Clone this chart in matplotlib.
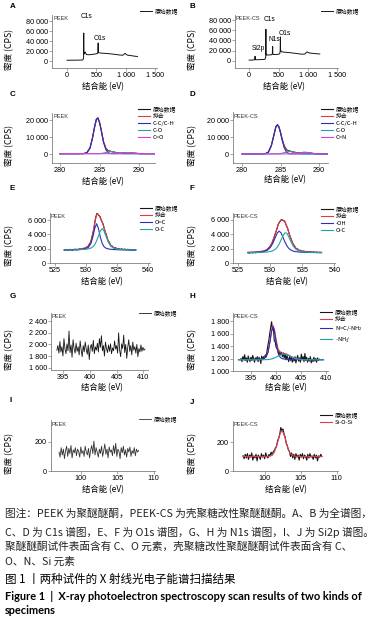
import numpy as np
import matplotlib.pyplot as plt
from matplotlib.ticker import FuncFormatter

plt.rcParams['font.family'] = ['Liberation Sans', 'Noto Sans CJK SC']
plt.rcParams['mathtext.fontset'] = 'custom'
plt.rcParams['mathtext.rm'] = 'Liberation Sans'
plt.rcParams['mathtext.it'] = 'Liberation Sans'
plt.rcParams['axes.unicode_minus'] = False

# A / B 全谱
survey_a_ev = [0, 100, 200, 270, 282, 284, 285, 286, 288, 295, 310, 330, 360, 400, 450, 500, 520, 528, 530, 531,
               532, 535, 545, 570, 620, 700, 800, 900, 950, 970, 985, 1000, 1015, 1040, 1080, 1120, 1160, 1200]
survey_a_cps = [1500, 1600, 1800, 2000, 6000, 40000, 56000, 30000, 16000, 14000, 18000, 13000, 12500, 12800, 13500,
                14500, 15000, 19000, 30000, 36000, 22000, 17000, 16500, 16000, 15500, 14800, 13500, 12000, 11500,
                13000, 15000, 14500, 12500, 11500, 11000, 10200, 9500, 9000]
survey_b_ev = [0, 60, 98, 101, 103, 106, 150, 200, 270, 282, 284, 285, 286, 288, 295, 330, 380, 395, 398, 400,
               402, 406, 450, 500, 520, 528, 530, 532, 534, 545, 600, 700, 800, 900, 950, 975, 990, 1010, 1050, 1100, 1200]
survey_b_cps = [1500, 1600, 2500, 9000, 3000, 2200, 2300, 2500, 3000, 8000, 45000, 62000, 25000, 13000, 11500,
                11500, 12000, 14000, 24000, 28000, 16000, 12500, 12500, 13000, 14000, 20000, 38000, 47000, 22000,
                18000, 17000, 16000, 14500, 13000, 13500, 17000, 17500, 16000, 15000, 14500, 13500]

# C / D  C1s
c1s_ev = [280.0, 281.0, 282.0, 283.0, 283.4, 283.8, 284.1, 284.4, 284.6, 284.8, 285.0, 285.2, 285.5, 285.8,
          286.1, 286.4, 286.8, 287.2, 287.6, 288.0, 288.4, 288.8, 289.2, 289.6, 290.2, 291.0, 292.0]
c_raw_peek = [250, 340, 280, 380, 900, 3600, 9500, 16500, 20700, 21500, 18600, 14700, 7300, 3500, 2100, 1650,
              1250, 850, 560, 800, 1000, 900, 700, 520, 280, 330, 260]
c_fit_peek = [300, 300, 310, 350, 850, 3750, 9300, 16700, 20400, 21200, 18850, 14420, 7440, 3345, 1970, 1700,
              1310, 796, 595, 745, 960, 960, 725, 475, 320, 300, 300]
c_cc_peek = [300, 300, 310, 350, 850, 3750, 9300, 16700, 20400, 21200, 18800, 14300, 7100, 2630, 850, 400,
             310, 300, 300, 300, 300, 300, 300, 300, 300, 300, 300]
c_co_peek = [300, 300, 300, 300, 300, 300, 300, 300, 300, 300, 350, 420, 640, 1015, 1420, 1600, 1300, 750, 420,
             320, 300, 300, 300, 300, 300, 300, 300]
c_ceo_peek = [300, 300, 300, 300, 300, 300, 300, 300, 300, 300, 300, 300, 300, 300, 300, 300, 300, 346, 475,
              725, 960, 960, 725, 475, 320, 300, 300]
c_raw_cs = [280, 330, 260, 420, 1200, 5100, 10400, 16300, 17100, 15800, 13000, 9300, 4800, 2700, 2100, 1750,
            1300, 950, 1000, 1150, 1100, 900, 600, 420, 280, 320, 270]
c_fit_cs = [300, 300, 300, 400, 1250, 5000, 10600, 16000, 17340, 16090, 12790, 8950, 4380, 2370, 1870, 1665,
            1240, 925, 980, 1175, 1160, 890, 575, 390, 310, 300, 300]
c_cc_cs = [300, 300, 300, 400, 1250, 5000, 10600, 16000, 17300, 16000, 12600, 8600, 3670, 1250, 490, 325,
           300, 300, 300, 300, 300, 300, 300, 300, 300, 300, 300]
c_co_cs = [300, 300, 300, 300, 300, 300, 300, 300, 340, 390, 490, 650, 1010, 1420, 1680, 1620, 1150, 650, 390,
           315, 300, 300, 300, 300, 300, 300, 300]
c_cn_cs = [300, 300, 300, 300, 300, 300, 300, 300, 300, 300, 300, 300, 300, 300, 300, 320, 390, 575, 890, 1160,
           1160, 890, 575, 390, 310, 300, 300]

# E / F  O1s
o1s_ev = [526.5, 527.5, 528.5, 529.0, 529.5, 530.0, 530.4, 530.8, 531.1, 531.4, 531.7, 532.0, 532.3, 532.6,
          532.9, 533.2, 533.6, 534.0, 534.5, 535.0, 535.5, 536.0, 537.0, 538.0]
o_fit_peek = [1850, 1873, 1918, 1958, 2022, 2141, 2379, 3053, 4112, 5607, 6784, 6805, 6326, 5760, 4961, 4055,
              3065, 2468, 2137, 2010, 1952, 1914, 1872, 1849]
o_oc2_peek = [1825, 1837, 1863, 1887, 1928, 2011, 2196, 2760, 3650, 4830, 5500, 4830, 3650, 2760, 2285, 2080,
              1970, 1918, 1881, 1859, 1845, 1835, 1824, 1817]
o_oc_peek = [1825, 1836, 1855, 1871, 1894, 1930, 1983, 2093, 2262, 2577, 3084, 3775, 4476, 4800, 4476, 3775,
             2895, 2350, 2056, 1951, 1907, 1879, 1848, 1832]
o_fit_cs = [1481, 1521, 1602, 1688, 1866, 2300, 2988, 4033, 4923, 5621, 5931, 5928, 5672, 5063, 4216, 3385,
            2548, 2054, 1766, 1639, 1578, 1536, 1488, 1462]
o_oh_cs = [1449, 1476, 1532, 1596, 1743, 2118, 2708, 3540, 4139, 4400, 4139, 3540, 2900, 2375, 2015, 1795,
           1638, 1561, 1517, 1488, 1469, 1455, 1438, 1427]
o_oc_cs = [1432, 1445, 1470, 1492, 1523, 1582, 1680, 1893, 2184, 2621, 3192, 3788, 4172, 4088, 3601, 2990,
           2310, 1893, 1649, 1551, 1509, 1481, 1450, 1435]
o_raw_start, o_raw_step = 526.5, 0.25
o_raw_peek = [1800, 1890, 1780, 1830, 1920, 1760, 1850, 1940, 1820, 1880, 1990, 1900, 2060, 2010, 2200, 2240,
              2620, 2900, 3800, 4700, 6150, 6950, 6700, 6500, 5900, 5450, 4550, 4000, 3200, 2900, 2380, 2350,
              2080, 2150, 1930, 2050, 1880, 1990, 1850, 1960, 1820, 1930, 1800, 1900, 1790, 1880, 1820]
o_raw_cs = [1420, 1360, 1450, 1380, 1460, 1400, 1490, 1440, 1560, 1520, 1640, 1700, 1810, 2050, 2350, 2680,
            3300, 3950, 4550, 5350, 5700, 6000, 5850, 5800, 5200, 4700, 3880, 3350, 2700, 2420, 2000, 1960,
            1700, 1760, 1580, 1660, 1500, 1620, 1490, 1580, 1460, 1540, 1450, 1520, 1430, 1500, 1440]

# G / H  N1s
n_peek_start, n_peek_step = 393.8, 0.19
n_raw_peek = [1900, 1980, 1850, 2050, 1870, 1960, 1800, 2100, 1920, 1840, 2010, 1890, 2230, 1860, 1990, 1780,
              2080, 1930, 1850, 2020, 1880, 1960, 1820, 2060, 1900, 1790, 1980, 1870, 2040, 1920, 1830, 1990,
              1740, 1950, 2000, 1880, 2070, 1840, 1960, 1900, 2020, 1870, 2100, 1950, 2150, 1890, 1980, 1800,
              2040, 1930, 1860, 1990, 1880, 2010, 1840, 1940, 1890, 2060, 1920, 1980, 1850, 2200, 1900, 1790,
              2010, 1930, 2160, 1860, 2000, 1760, 1950, 2080, 1880, 1980, 1820, 2040, 1900, 1960, 1850, 2000,
              1790, 1930, 1870, 1990, 1880, 1950, 1900, 1920]
n_cs_start, n_cs_step = 393.0, 0.18
n_raw_cs = [1200, 1150, 1230, 1180, 1260, 1170, 1210, 1140, 1240, 1190, 1150, 1220, 1170, 1250, 1200, 1140,
            1210, 1180, 1230, 1150, 1220, 1190, 1120, 1240, 1180, 1230, 1200, 1260, 1230, 1330, 1420, 1500,
            1610, 1700, 1790, 1660, 1700, 1480, 1470, 1380, 1360, 1330, 1250, 1320, 1260, 1300, 1230, 1290,
            1210, 1270, 1180, 1250, 1200, 1150, 1240, 1170, 1220, 1140, 1210, 1160, 1230, 1130, 1200, 1250,
            1160, 1210, 1140, 1270, 1190, 1230, 1150, 1280, 1170, 1220, 1140, 1200, 1160, 1230, 1130, 1190,
            1150, 1220, 1160, 1200, 1140, 1210, 1170, 1190]
n1s_ev = [392.5, 394.0, 395.5, 396.5, 397.5, 398.0, 398.4, 398.8, 399.1, 399.4, 399.7, 400.0, 400.4, 400.8,
          401.2, 401.6, 402.0, 402.5, 403.0, 404.0, 405.0, 406.5, 408.0, 409.5]
n_fit_cs = [1181, 1182, 1184, 1188, 1199, 1225, 1303, 1479, 1644, 1730, 1661, 1512, 1357, 1297, 1286, 1283,
            1275, 1257, 1234, 1198, 1185, 1181, 1181, 1181]
n_nc_cs = [1181, 1182, 1184, 1188, 1198, 1223, 1299, 1471, 1631, 1710, 1631, 1471, 1299, 1223, 1200, 1193,
           1189, 1187, 1185, 1183, 1182, 1181, 1181, 1181]
n_nh3_cs = [1180, 1180, 1180, 1180, 1181, 1182, 1184, 1188, 1193, 1200, 1210, 1221, 1238, 1254, 1266, 1270,
            1266, 1250, 1229, 1195, 1183, 1180, 1180, 1180]

# I / J  Si2p
si_start, si_step = 97.0, 0.15
si_raw_peek = [130, 95, 160, 110, 150, 85, 140, 170, 100, 155, 120, 175, 90, 145, 125, 160, 105, 150, 135, 95,
               165, 120, 140, 100, 170, 130, 110, 155, 90, 145, 175, 120, 205, 110, 160, 130, 95, 150, 120, 170,
               100, 140, 185, 115, 150, 90, 165, 130, 145, 105, 175, 120, 190, 100, 150, 135, 85, 160, 125, 170,
               110, 145, 95, 155, 130, 165, 100, 140, 120, 160, 105, 150, 130, 140]
si_raw_cs = [105, 85, 115, 90, 120, 80, 110, 95, 125, 75, 105, 90, 115, 70, 110, 100, 80, 120, 95, 110, 85, 125,
             100, 90, 115, 105, 130, 110, 135, 140, 160, 170, 210, 225, 255, 300, 280, 290, 255, 235, 190, 175,
             145, 135, 100, 125, 90, 115, 80, 120, 95, 110, 75, 115, 95, 120, 85, 110, 100, 75, 115, 90, 120,
             95, 105, 80, 115, 90, 110, 70, 105, 95, 115, 100]
si2p_ev = [97.0, 98.5, 100.0, 100.8, 101.3, 101.7, 102.0, 102.2, 102.4, 102.6, 102.8, 103.1, 103.5, 104.0,
           104.8, 106.0, 108.0]
si_fit_cs = [100, 100, 100, 103, 124, 178, 235, 264, 275, 264, 235, 178, 124, 103, 100, 100, 100]

caption = ["图注：PEEK 为聚醚醚酮，PEEK-CS 为壳聚糖改性聚醚醚酮。A、B 为全谱图，",
           "C、D 为 C1s 谱图，E、F 为 O1s 谱图，G、H 为 N1s 谱图，I、J 为 Si2p 谱图。",
           "聚醚醚酮试件表面含有 C、O 元素，壳聚糖改性聚醚醚酮试件表面含有 C、",
           "O、N、Si 元素"]

W, H = 376, 622
fig = plt.figure(figsize=(W / 100, H / 100), dpi=100)

BLACK, RED, BLUE, TEAL, MAG = '#151515', '#e23a48', '#2c2cc0', '#1fa3a6', '#e03ee3'
CJK = ['Noto Sans CJK SC']
thousands = FuncFormatter(lambda v, p: f'{v:,.0f}'.replace(',', ' '))


def ftext(x, y, s, **kw):
    return fig.text(x / W, 1 - y / H, s, **kw)


def panel(l, t, r, b, xlim, ylim, xt, yt, letter, name, lx, ly):
    ax = fig.add_axes([l / W, 1 - b / H, (r - l) / W, (b - t) / H])
    ax.set_xlim(xlim)
    ax.set_ylim(ylim)
    ax.set_xticks(xt)
    ax.set_yticks(yt)
    for s in ['top', 'right']:
        ax.spines[s].set_visible(False)
    for s in ['left', 'bottom']:
        ax.spines[s].set_color('#808080')
        ax.spines[s].set_linewidth(0.6)
    ax.tick_params(length=2, width=0.5, color='#808080', labelsize=5.2, pad=1)
    ax.yaxis.set_major_formatter(thousands)
    ax.xaxis.set_major_formatter(thousands)
    ax.patch.set_alpha(0)
    ftext(l + 1, t + 4, name, fontsize=4.1, va='center', color='#333333')
    ftext(letter[1], letter[2], letter[0], fontsize=5.8, fontweight='bold', va='center')
    ftext(lx, ly, '结合能 (eV)', fontsize=6, ha='center', va='center', family=CJK)
    ftext(10 if l < 150 else 193, (t + b) / 2 + 8, '密度 (CPS)', fontsize=6.2, rotation=90,
          ha='center', va='center', family=CJK)
    return ax


def legend(ax, x, y):
    ax.legend(loc='upper left', bbox_to_anchor=(x / W, 1 - y / H), bbox_transform=fig.transFigure,
              frameon=False, prop={'family': CJK, 'size': 4.2}, handlelength=2.0, handletextpad=0.5,
              labelspacing=0.35, borderpad=0, borderaxespad=0)


# A
ax = panel(52, 15, 157, 68, (-256, 1534), (-14000, 92000), [0, 500, 1000, 1500],
           [0, 20000, 40000, 60000, 80000], ('A', 10, 7), 'PEEK', 103, 87)
ax.plot(survey_a_ev, survey_a_cps, color=BLACK, lw=0.7, label='原始数据')
ax.text(324, 88000, 'C1s', fontsize=4.8, ha='center', va='center')
ax.text(562, 44000, 'O1s', fontsize=4.8, ha='center', va='center')
legend(ax, 140, 8)

# B
ax = panel(235, 15, 338, 68, (-240, 1510), (-14000, 90000), [0, 500, 1000, 1500],
           [0, 20000, 40000, 60000, 80000], ('B', 190, 6), 'PEEK-CS', 284, 87)
ax.plot(survey_b_ev, survey_b_cps, color=BLACK, lw=0.7, label='原始数据')
ax.text(354, 82000, 'C1s', fontsize=4.8, ha='center', va='center')
ax.text(607, 54600, 'O1s', fontsize=4.8, ha='center', va='center')
ax.text(421, 42900, 'N1s', fontsize=4.8, ha='center', va='center')
ax.text(152, 23400, 'Si2p', fontsize=4.8, ha='center', va='center')
legend(ax, 321, 8)

# C
ax = panel(52, 113, 155, 163, (279, 292), (-5200, 24300), [280, 285, 290], [0, 10000, 20000],
           ('C', 10, 95), 'PEEK', 103, 182)
ax.plot(c1s_ev, c_raw_peek, color=BLACK, lw=0.8, label='原始数据')
ax.plot(c1s_ev, c_fit_peek, color=RED, lw=0.8, label='拟合')
ax.plot(c1s_ev, c_cc_peek, color=BLUE, lw=0.8, label='C-C/C-H')
ax.plot(c1s_ev, c_co_peek, color=TEAL, lw=0.8, label='C-O')
ax.plot(c1s_ev, c_ceo_peek, color=MAG, lw=0.8, label='C=O')
legend(ax, 138, 106)

# D
ax = panel(233, 112, 328, 163, (278.8, 291.2), (-5000, 24700), [280, 285, 290], [0, 10000, 20000],
           ('D', 190, 95), 'PEEK-CS', 285, 180)
ax.plot(c1s_ev, c_raw_cs, color=BLACK, lw=0.8, label='原始数据')
ax.plot(c1s_ev, c_fit_cs, color=RED, lw=0.8, label='拟合')
ax.plot(c1s_ev, c_cc_cs, color=BLUE, lw=0.8, label='C-C/C-H')
ax.plot(c1s_ev, c_co_cs, color=TEAL, lw=0.8, label='C-O')
ax.plot(c1s_ev, c_cn_cs, color=MAG, lw=0.8, label='C=N')
legend(ax, 321, 106)

# E
o_raw_ev_peek = o_raw_start + o_raw_step * np.arange(len(o_raw_peek))
ax = panel(50, 213, 150, 263, (524.2, 540.3), (0, 7000), [525, 530, 535, 540], [0, 2000, 4000, 6000],
           ('E', 10, 188), 'PEEK', 102, 282)
ax.plot(o_raw_ev_peek, o_raw_peek, color=BLACK, lw=0.8, label='原始数据')
ax.plot(o1s_ev, o_fit_peek, color=RED, lw=0.8, label='拟合')
ax.plot(o1s_ev, o_oc2_peek, color=BLUE, lw=0.8, label='O=C')
ax.plot(o1s_ev, o_oc_peek, color=TEAL, lw=0.8, label='O-C')
legend(ax, 140, 205)

# F
o_raw_ev_cs = o_raw_start + o_raw_step * np.arange(len(o_raw_cs))
ax = panel(233, 213, 335, 263, (524.2, 540.1), (0, 6900), [525, 530, 535, 540], [0, 2000, 4000, 6000],
           ('F', 190, 189), 'PEEK-CS', 287, 282)
ax.plot(o_raw_ev_cs, o_raw_cs, color=BLACK, lw=0.8, label='原始数据')
ax.plot(o1s_ev, o_fit_cs, color=RED, lw=0.8, label='拟合')
ax.plot(o1s_ev, o_oh_cs, color=BLUE, lw=0.8, label='-OH')
ax.plot(o1s_ev, o_oc_cs, color=TEAL, lw=0.8, label='O-C')
legend(ax, 321, 206)

# G
ax = panel(51, 313, 148, 370, (392.7, 410.9), (1560, 2540), [395, 400, 405, 410],
           [1600, 1800, 2000, 2200, 2400], ('G', 10, 296), 'PEEK', 102, 388)
ax.plot(n_peek_start + n_peek_step * np.arange(len(n_raw_peek)), n_raw_peek, color=BLACK, lw=0.6,
        label='原始数据')
legend(ax, 139, 310)

# H
ax = panel(233, 313, 328, 371, (391.4, 410.4), (1000, 1930), [395, 400, 405, 410],
           [1000, 1200, 1400, 1600, 1800], ('H', 190, 296), 'PEEK-CS', 286, 388)
ax.plot(n_cs_start + n_cs_step * np.arange(len(n_raw_cs)), n_raw_cs, color=BLACK, lw=0.8, label='原始数据')
ax.plot(n1s_ev, n_fit_cs, color=RED, lw=0.8, label='拟合')
ax.plot(n1s_ev, n_nc_cs, color=BLUE, lw=0.8, label=r'N=C/-NH$_2$')
ax.plot(n1s_ev, n_nh3_cs, color=TEAL, lw=0.8, label=r'-NH$_3^+$')
legend(ax, 320, 309)

# I
ax = panel(51, 420, 155, 471, (95.9, 110.2), (0, 350), [100, 105, 110], [0, 200],
           ('I', 10, 400), 'PEEK', 103, 490)
ax.plot(si_start + si_step * np.arange(len(si_raw_peek)), si_raw_peek, color='#333333', lw=0.6,
        label='原始数据')
legend(ax, 139, 416)

# J
ax = panel(233, 421, 338, 471, (95.6, 110.2), (0, 345), [100, 105, 110], [0, 200],
           ('J', 190, 403), 'PEEK-CS', 286, 490)
ax.plot(si_start + si_step * np.arange(len(si_raw_cs)), si_raw_cs, color=BLACK, lw=0.8, label='原始数据')
ax.plot(si2p_ev, si_fit_cs, color=RED, lw=0.8, label='Si-O-Si')
legend(ax, 320, 412)

# 图注
cap_y = [514, 532, 547, 562]
for s, y in zip(caption, cap_y):
    ftext(5, y, s, fontsize=7.7, va='center', color='#222222', family=CJK)
ftext(5, 579, '图 1 丨两种试件的 X 射线光电子能谱扫描结果', fontsize=8.3, va='center', family=CJK)
ftext(5, 596, 'Figure 1  |  X-ray photoelectron spectroscopy scan results of two kinds of', fontsize=7.9,
      va='center', fontweight='bold', family=['Lato'])
ftext(5, 611, 'specimens', fontsize=7.9, va='center', fontweight='bold', family=['Lato'])

fig.savefig('out.png', dpi=100, facecolor='white')
